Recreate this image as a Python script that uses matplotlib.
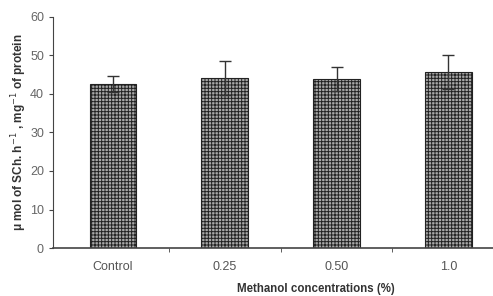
import numpy as np
import matplotlib.pyplot as plt

plt.rcParams['font.family'] = ['Liberation Sans', 'DejaVu Sans']
plt.rcParams['hatch.linewidth'] = 0.7
plt.rcParams['hatch.color'] = '#111111'

# data
groups = ['Control', '0.25', '0.50', '1.0']
activity = [42.6, 44.2, 43.9, 45.7]
errors = [2.1, 4.4, 3.1, 4.4]

fig = plt.figure(figsize=(4.93, 2.96), dpi=100)
ax = fig.add_axes([0.1075, 0.162, 0.8925, 0.781])

x = np.arange(len(groups))
ax.bar(x, activity, width=0.42, color='#a8a8a8', edgecolor='#222222',
       hatch='+++++', linewidth=0.8, zorder=2)
ax.errorbar(x, activity, yerr=errors, fmt='none', ecolor='#333333',
            elinewidth=1.0, capsize=4, capthick=1.0, zorder=3)

ax.set_xlim(-0.537, 3.40)
ax.set_ylim(0, 60)
ax.set_yticks(range(0, 61, 10))
ax.set_xticks(x)
ax.set_xticklabels(groups)
ax.set_xticks([0.5, 1.5, 2.5], minor=True)
ax.tick_params(axis='x', which='major', length=0, pad=9, labelsize=9, labelcolor='#555555')
ax.tick_params(axis='x', which='minor', length=3, color='#444444')
ax.tick_params(axis='y', length=3, labelsize=9, labelcolor='#666666', color='#444444')

for s in ['top', 'right']:
    ax.spines[s].set_visible(False)
ax.spines['left'].set_color('#444444')
ax.spines['bottom'].set_color('#444444')
ax.spines['bottom'].set_linewidth(1.2)

ax.set_xlabel('Methanol concentrations (%)', fontsize=8.3, fontweight='bold',
              color='#333333')
ax.xaxis.set_label_coords(0.598, -0.152)
ax.set_ylabel('\u03bc mol of SCh. h$^{-1}$ , mg$^{-1}$ of protein', fontsize=8.5,
              fontweight='bold', color='#333333')
ax.yaxis.set_label_coords(-0.054, 0.5)

fig.savefig('out.png', dpi=100)
